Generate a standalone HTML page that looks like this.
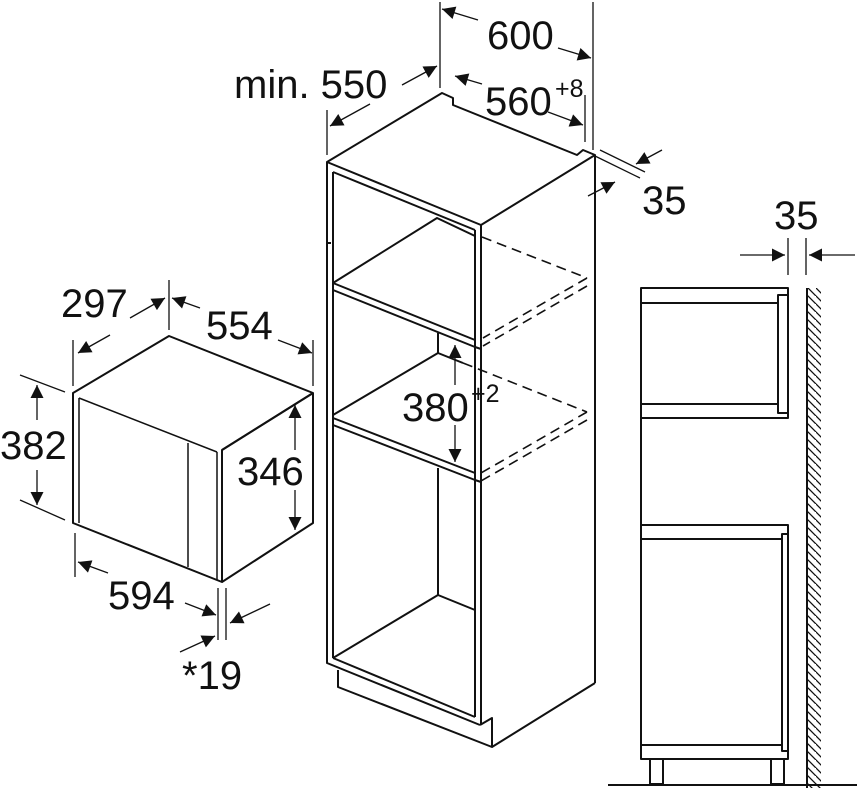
<!DOCTYPE html>
<html><head><meta charset="utf-8"><style>
html,body{margin:0;padding:0;background:#fff;}
svg{display:block;}
text{font-family:"Liberation Sans",sans-serif;font-size:40px;fill:#111;}
.s{font-size:25px;}
</style></head><body>
<svg width="857" height="788" viewBox="0 0 857 788" xmlns="http://www.w3.org/2000/svg">
<defs>
<marker id="a" viewBox="0 0 10 10" refX="10" refY="5" markerWidth="22" markerHeight="13" markerUnits="userSpaceOnUse" orient="auto"><path d="M0,0 L10,5 L0,10 z" fill="#111"/></marker>
<pattern id="h" width="8" height="8" patternUnits="userSpaceOnUse"><path d="M0,0 L12,12 M-4,4 L4,12" stroke="#111" stroke-width="1.3"/></pattern>
</defs>
<g fill="none" stroke="#111" stroke-width="2" stroke-linejoin="round">
<polygon points="73,393 169,336 313,393 222,450 222,582 73,523" fill="#fff"/>
<line x1="222" y1="450" x2="313" y2="393"/>
<polyline points="313,393 313,523 222,582"/>
<line x1="79" y1="398" x2="217" y2="452" stroke-width="1.5"/>
<line x1="79" y1="398" x2="79" y2="523" stroke-width="1.5"/>
<line x1="217" y1="452" x2="217" y2="580" stroke-width="1.5"/>
<line x1="188" y1="443" x2="188" y2="567" stroke-width="1.5"/>
<g stroke-width="1.3">
<line x1="73" y1="340" x2="73" y2="386"/>
<line x1="169" y1="280" x2="169" y2="330"/>
<line x1="313" y1="340" x2="313" y2="386"/>
<line x1="20" y1="375" x2="65" y2="392"/>
<line x1="20" y1="500" x2="65" y2="520"/>
<line x1="75" y1="533" x2="75" y2="577"/>
<line x1="218" y1="588" x2="218" y2="640"/>
<line x1="226" y1="588" x2="226" y2="640"/>
<line x1="110" y1="335" x2="78" y2="353" marker-end="url(#a)"/>
<line x1="130" y1="318" x2="165" y2="298" marker-end="url(#a)"/>
<line x1="200" y1="308" x2="172" y2="298" marker-end="url(#a)"/>
<line x1="278" y1="340" x2="312" y2="353" marker-end="url(#a)"/>
<line x1="37" y1="420" x2="37" y2="385" marker-end="url(#a)"/>
<line x1="37" y1="470" x2="37" y2="505" marker-end="url(#a)"/>
<line x1="295" y1="450" x2="295" y2="405" marker-end="url(#a)"/>
<line x1="295" y1="490" x2="295" y2="530" marker-end="url(#a)"/>
<line x1="108" y1="573" x2="78" y2="562" marker-end="url(#a)"/>
<line x1="185" y1="603" x2="216" y2="615" marker-end="url(#a)"/>
<line x1="270" y1="604" x2="230" y2="623" marker-end="url(#a)"/>
<line x1="180" y1="652" x2="215" y2="636" marker-end="url(#a)"/>
</g>
<polyline points="327,162 442,93 453,98 453,105 577,155 583,150 595,155 481,225 327,162 327,663 480,725"/>
<line x1="595" y1="155" x2="595" y2="683"/>
<line x1="481" y1="225" x2="481" y2="725"/>
<line x1="475" y1="230" x2="475" y2="717"/>
<line x1="333" y1="172" x2="475" y2="230"/>
<line x1="333" y1="172" x2="333" y2="658"/>
<polyline points="333,283 437,218 475,236"/>
<line x1="333" y1="283" x2="475" y2="340"/>
<line x1="333" y1="290" x2="475" y2="347"/>
<line x1="475" y1="347" x2="481" y2="349"/>
<polyline points="438,333 438,353 333,415"/>
<line x1="438" y1="353" x2="463" y2="363"/>
<line x1="333" y1="418" x2="475" y2="473"/>
<line x1="333" y1="425" x2="475" y2="480"/>
<line x1="475" y1="480" x2="481" y2="482"/>
<line x1="438" y1="468" x2="438" y2="595"/>
<polyline points="333,658 438,595 475,610"/>
<line x1="333" y1="658" x2="475" y2="717"/>
<polyline points="338,670 338,687 492,747 595,683"/>
<polyline points="480,725 492,718 492,747"/>
<line x1="327" y1="243" x2="331" y2="243"/>
<g stroke-dasharray="10,6" stroke-width="1.6">
<line x1="482" y1="237" x2="587" y2="278"/>
<line x1="587" y1="278" x2="483" y2="338"/>
<line x1="587" y1="286" x2="483" y2="346"/>
<line x1="463" y1="363" x2="587" y2="412"/>
<line x1="587" y1="412" x2="481" y2="473"/>
<line x1="587" y1="420" x2="481" y2="481"/>
</g>
<g stroke-width="1.3">
<line x1="455" y1="385" x2="455" y2="345" marker-end="url(#a)"/>
<line x1="455" y1="425" x2="455" y2="462" marker-end="url(#a)"/>
<line x1="327" y1="110" x2="327" y2="155"/>
<line x1="440" y1="2" x2="440" y2="88"/>
<line x1="593" y1="2" x2="593" y2="150"/>
<line x1="585" y1="95" x2="585" y2="142"/>
<line x1="370" y1="104" x2="330" y2="126" marker-end="url(#a)"/>
<line x1="402" y1="85" x2="437" y2="66" marker-end="url(#a)"/>
<line x1="478" y1="20" x2="442" y2="9" marker-end="url(#a)"/>
<line x1="558" y1="48" x2="591" y2="58" marker-end="url(#a)"/>
<line x1="482" y1="84" x2="455" y2="76" marker-end="url(#a)"/>
<line x1="548" y1="112" x2="583" y2="125" marker-end="url(#a)"/>
<line x1="595" y1="156" x2="640" y2="178"/>
<line x1="600" y1="150" x2="645" y2="172"/>
<line x1="662" y1="150" x2="636" y2="164" marker-end="url(#a)"/>
<line x1="588" y1="196" x2="615" y2="182" marker-end="url(#a)"/>
</g>
<rect x="641" y="288" width="147" height="130"/>
<line x1="641" y1="303" x2="778" y2="303"/>
<line x1="641" y1="404" x2="778" y2="404"/>
<rect x="778" y="295" width="10" height="118"/>
<line x1="641" y1="418" x2="641" y2="525"/>
<rect x="641" y="525" width="147" height="234"/>
<line x1="641" y1="539" x2="782" y2="539"/>
<line x1="641" y1="745" x2="782" y2="745"/>
<rect x="782" y="534" width="6" height="217"/>
<rect x="650" y="759" width="13" height="25"/>
<rect x="771" y="759" width="13" height="25"/>
<line x1="608" y1="785" x2="857" y2="785"/>
<line x1="807" y1="288" x2="807" y2="788"/>
<rect x="808" y="288" width="13" height="500" fill="url(#h)" stroke="none"/>
<g stroke-width="1.3">
<line x1="788" y1="238" x2="788" y2="275"/>
<line x1="806" y1="238" x2="806" y2="275"/>
<line x1="740" y1="255" x2="785" y2="255" marker-end="url(#a)"/>
<line x1="855" y1="255" x2="809" y2="255" marker-end="url(#a)"/>
</g>
</g>
<text x="61" y="317">297</text>
<text x="206" y="339">554</text>
<text x="0" y="459">382</text>
<text x="237" y="485">346</text>
<text x="108" y="609">594</text>
<text x="182" y="689">*19</text>
<text x="234" y="98">min. 550</text>
<text x="487" y="49">600</text>
<text x="485" y="115">560</text><text class="s" x="555" y="97">+8</text>
<text x="642" y="214">35</text>
<text x="402" y="421">380</text><text class="s" x="471" y="402">+2</text>
<text x="774" y="229">35</text>
</svg>
</body></html>
